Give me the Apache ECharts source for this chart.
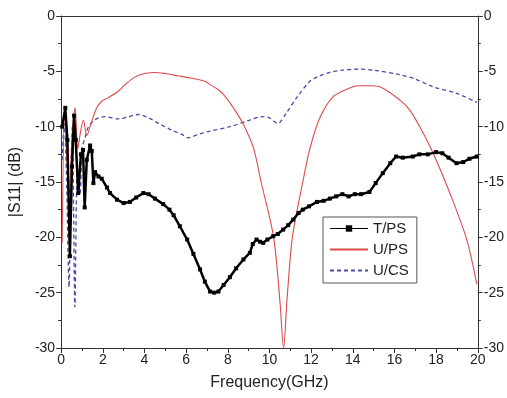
<!DOCTYPE html>
<html>
<head>
<meta charset="utf-8">
<script src="https://cdn.jsdelivr.net/npm/echarts@6/dist/echarts.min.js"></script>
<style>
html,body{margin:0;padding:0;background:#fff;}
#chart{width:507px;height:398px;}
</style>
</head>
<body>
<div id="chart"></div>
<script>
// ---- data ----
var seriesNames = ['T/PS', 'U/PS', 'U/CS'];
var xTicks = [0, 2, 4, 6, 8, 10, 12, 14, 16, 18, 20];
var yTicks = [0, -5, -10, -15, -20, -25, -30];

var tpsFreq = [0.05,0.2,0.3,0.42,0.52,0.62,0.7,0.82,0.95,1.05,1.13,1.23,1.39,1.47,1.55,1.63,1.79,1.95,2.2,2.35,2.68,3.0,3.3,3.6,3.95,4.2,4.5,4.9,5.2,5.4,5.7,6.05,6.35,6.67,6.9,7.15,7.35,7.55,7.8,8.1,8.4,8.75,9.06,9.2,9.38,9.55,9.7,9.9,10.18,10.4,10.66,10.9,11.14,11.4,11.6,11.9,12.28,12.6,12.9,13.2,13.5,13.8,14.1,14.4,14.8,15.1,15.44,15.8,16.08,16.4,16.88,17.2,17.6,18.0,18.3,18.6,18.98,19.3,19.6,19.95];
var tpsS11 = [-10.0,-8.3,-11.2,-21.7,-13.6,-9.0,-11.2,-16.0,-12.5,-12.1,-17.3,-13.0,-11.7,-12.2,-15.1,-14.1,-14.5,-14.7,-15.5,-16.0,-16.6,-16.9,-16.8,-16.4,-16.0,-16.1,-16.5,-17.0,-17.5,-18.0,-19.0,-20.2,-21.5,-22.9,-24.0,-24.9,-25.0,-24.9,-24.3,-23.6,-22.8,-22.0,-21.4,-20.6,-20.2,-20.4,-20.5,-20.2,-19.9,-19.7,-19.3,-18.9,-18.4,-17.8,-17.5,-17.2,-16.8,-16.7,-16.5,-16.3,-16.1,-16.3,-16.1,-16.1,-15.9,-15.1,-14.2,-13.3,-12.7,-12.8,-12.7,-12.5,-12.5,-12.3,-12.4,-12.8,-13.3,-13.2,-12.9,-12.7];

var upsFreq = [0.05,0.17,0.28,0.4,0.52,0.67,0.8,0.91,1.07,1.23,1.47,1.71,1.95,2.25,2.74,3.07,3.55,4.03,4.5,4.99,5.6,6.2,6.9,7.15,7.5,7.8,8.27,8.75,9.23,9.6,10.2,10.5,10.68,10.84,11.1,11.6,11.94,12.42,13.05,13.86,14.27,14.8,15.3,16.26,16.74,17.3,17.86,18.66,19.47,19.95];
var upsS11 = [-20.5,-8.5,-13.0,-16.0,-11.0,-8.3,-12.0,-10.7,-9.4,-10.8,-9.5,-8.3,-7.7,-7.4,-6.8,-6.2,-5.5,-5.2,-5.1,-5.2,-5.4,-5.6,-5.9,-6.2,-6.6,-7.1,-8.3,-9.8,-11.9,-15.0,-20.0,-25.7,-30.0,-25.7,-20.0,-15.0,-12.0,-9.2,-7.3,-6.5,-6.3,-6.3,-6.4,-7.6,-8.5,-10.3,-12.4,-16.0,-20.2,-24.2];

var ucsFreq = [0.05,0.15,0.25,0.38,0.46,0.54,0.6,0.66,0.78,0.91,1.0,1.15,1.31,1.55,1.79,2.11,2.74,3.23,3.71,4.19,4.67,5.3,5.8,6.1,6.57,7.15,8.1,9.06,9.63,10.0,10.4,10.8,11.3,11.94,12.42,12.9,13.5,14.3,15.0,16.26,17.0,17.86,19.0,19.95];
var ucsS11 = [-13.0,-9.7,-14.0,-24.5,-15.0,-10.0,-18.0,-26.3,-14.0,-16.0,-12.0,-11.0,-10.0,-9.5,-9.2,-9.1,-9.3,-9.1,-8.9,-9.2,-9.7,-10.3,-10.7,-11.0,-10.7,-10.4,-10.0,-9.4,-9.1,-9.2,-9.7,-8.8,-7.4,-5.9,-5.4,-5.1,-4.9,-4.8,-4.9,-5.3,-5.7,-6.4,-7.0,-7.8];

function pairs(xs, ys) { return xs.map(function (x, i) { return [x, ys[i]]; }); }

var axisColor = '#333';
var fontFam = '"Liberation Sans", Arial, sans-serif';
var chart = echarts.init(document.getElementById('chart'), null, {renderer: 'canvas'});

var yCommon = {
  type: 'value', min: yTicks[yTicks.length - 1], max: yTicks[0], interval: 5,
  axisLine: {show: true, onZero: false, lineStyle: {color: axisColor, width: 1}},
  axisTick: {show: true, inside: false, length: 5, lineStyle: {color: axisColor}},
  minorTick: {show: true, splitNumber: 2, length: 3, lineStyle: {color: axisColor}},
  splitLine: {show: false},
  axisLabel: {color: '#222', fontSize: 14, fontFamily: fontFam, margin: 6}
};

chart.setOption({
  animation: false,
  backgroundColor: '#fff',
  grid: {left: 61, right: 29, top: 16, bottom: 50, containLabel: false},
  legend: {
    orient: 'vertical', left: 323, top: 217,
    width: 95,
    backgroundColor: '#fff',
    borderColor: '#555', borderWidth: 1, borderRadius: 0,
    padding: [4, 8, 5, 6],
    itemWidth: 38, itemHeight: 8, itemGap: 6,
    textStyle: {color: '#222', fontSize: 15, fontFamily: fontFam},
    data: [
      {name: seriesNames[0], itemStyle: {color: '#000'}, lineStyle: {width: 1}},
      {name: seriesNames[1], itemStyle: {opacity: 0}},
      {name: seriesNames[2], itemStyle: {opacity: 0}}
    ]
  },
  xAxis: [{
    type: 'value', min: xTicks[0], max: xTicks[xTicks.length - 1], interval: 2,
    name: 'Frequency(GHz)', nameLocation: 'middle', nameGap: 27,
    nameTextStyle: {color: '#222', fontSize: 16, fontFamily: fontFam},
    axisLine: {show: true, onZero: false, lineStyle: {color: axisColor, width: 1}},
    axisTick: {show: true, inside: false, length: 5, lineStyle: {color: axisColor}},
    minorTick: {show: true, splitNumber: 2, length: 3, lineStyle: {color: axisColor}},
    splitLine: {show: false},
    axisLabel: {color: '#222', fontSize: 14, fontFamily: fontFam, margin: 5}
  }, {
    type: 'value', position: 'top', min: 0, max: 20,
    axisLine: {show: true, onZero: false, lineStyle: {color: axisColor, width: 1}},
    axisTick: {show: false}, axisLabel: {show: false}, splitLine: {show: false}
  }],
  yAxis: [
    Object.assign({}, yCommon, {
      position: 'left',
      name: '|S11| (dB)', nameLocation: 'middle', nameGap: 33, nameRotate: 90,
      nameTextStyle: {color: '#222', fontSize: 16, fontFamily: fontFam}
    }),
    Object.assign({}, yCommon, {position: 'right'})
  ],
  series: [
    {
      name: seriesNames[0], type: 'line', data: pairs(tpsFreq, tpsS11),
      symbol: 'rect', symbolSize: 4, showSymbol: true,
      itemStyle: {color: '#000'},
      lineStyle: {color: '#000', width: 2.5},
      z: 3
    },
    {
      name: seriesNames[1], type: 'line', data: pairs(upsFreq, upsS11),
      symbol: 'none', smooth: 0.3,
      itemStyle: {color: '#dc4a4a'},
      lineStyle: {color: '#dc4a4a', width: 1.1},
      z: 2
    },
    {
      name: seriesNames[2], type: 'line', data: pairs(ucsFreq, ucsS11),
      symbol: 'none', smooth: 0.3,
      itemStyle: {color: '#4a4aa8'},
      lineStyle: {color: '#4a4aa8', width: 1.3, type: [4, 3]},
      z: 1
    }
  ]
});
</script>
</body>
</html>
